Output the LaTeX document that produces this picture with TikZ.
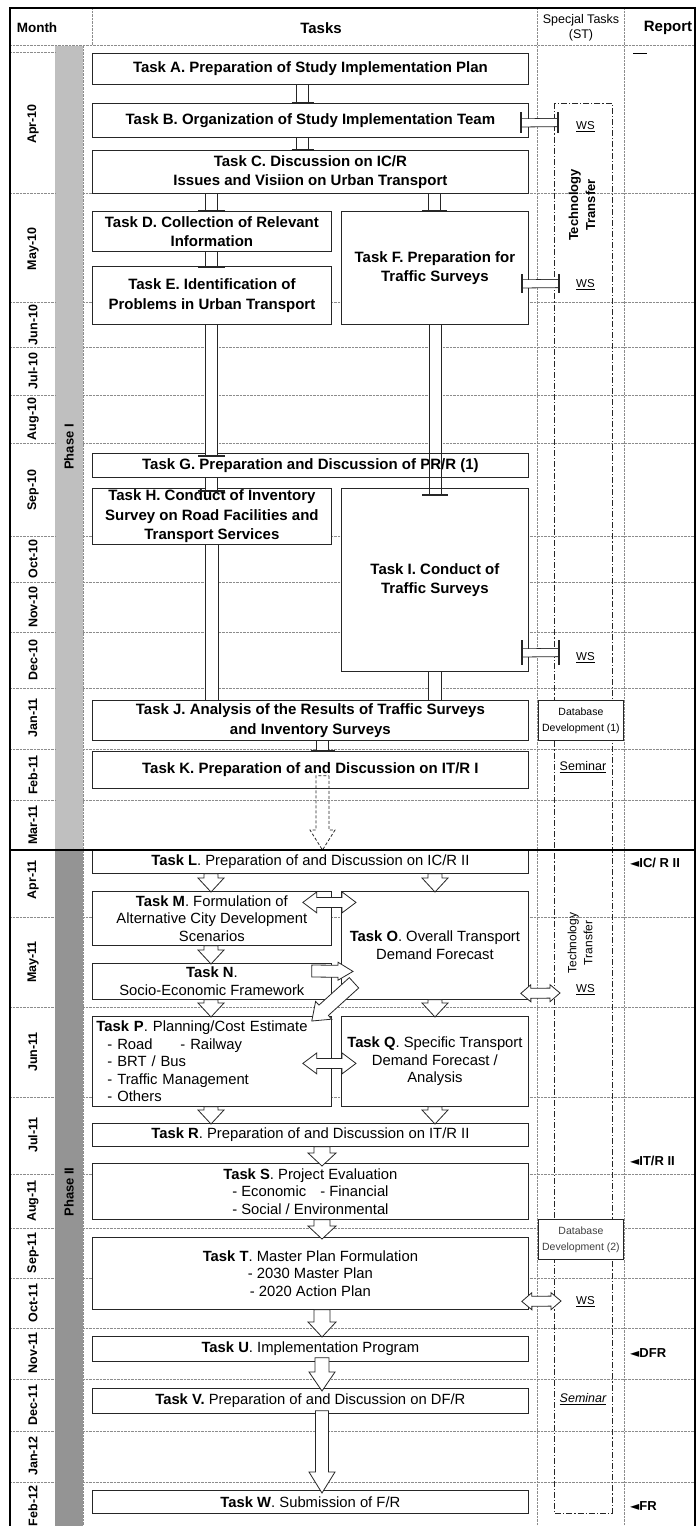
\documentclass[tikz,border=0pt]{standalone}
\usepackage{fontspec}
\setmainfont{Liberation Sans}
\newfontfamily\dejavu{DejaVu Sans}
\usetikzlibrary{calc}
\pgfdeclarelayer{bg}
\pgfdeclarelayer{mid}
\pgfsetlayers{bg,mid,main}
\tikzset{
 box/.style={draw=black!85, line width=0.8pt, fill=white, inner xsep=4pt, inner ysep=1pt, align=center},
 p1/.style={font=\fontsize{15}{19.5}\selectfont\bfseries},
 p2/.style={font=\fontsize{14.8}{17.5}\selectfont},
 mline/.style={draw=black!45, line width=0.6pt, dash pattern=on 0.7pt off 0.7pt},
 pipe/.style={draw=black!85, double=white, double distance=11.4pt, line width=0.8pt},
 hpipesty/.style={draw=black!85, double=white, double distance=7.4pt, line width=0.8pt},
 pline/.style={draw=black!85, line width=0.8pt},
 pipebar/.style={draw=black!85, line width=1.5pt},
 barr/.style={draw=black!85, fill=white, line width=0.8pt, line join=miter},
 ttline/.style={draw=black!85, line width=0.8pt, dash pattern=on 6pt off 2pt on 1.2pt off 2pt},
 mon/.style={rotate=90, font=\fontsize{12.5}{12.5}\selectfont\bfseries},
 ws/.style={anchor=west, inner sep=1pt, font=\fontsize{11.5}{11.5}\selectfont},
 rep/.style={anchor=west, inner sep=0pt, font=\fontsize{13}{13}\selectfont\bfseries},
 dbbox/.style={draw=black!85, line width=0.8pt, fill=white, inner sep=1pt, align=center, font=\fontsize{10.5}{16}\selectfont},
}
% box: [style] name x1 y1 x2 y2 text
\newcommand\tbox[7][]{%
  \pgfmathsetmacro\bw{#5-#3}\pgfmathsetmacro\bh{#6-#4}%
  \node[box,#1,anchor=north west,minimum width=\bw pt,minimum height=\bh pt] (#2) at (#3,#4) {#7};}
% block arrow: [style] start end shafthalf headhalf headlen
\newcommand\blockarrow[6][]{%
  \coordinate (bas) at #2; \coordinate (bae) at #3;
  \coordinate (bah) at ($(bae)!#6pt!(bas)$);
  \draw[barr,#1] ($(bas)!#4pt!90:(bae)$) -- ($(bah)!#4pt!90:(bae)$) -- ($(bah)!#5pt!90:(bae)$) -- (bae)
     -- ($(bah)!#5pt!-90:(bae)$) -- ($(bah)!#4pt!-90:(bae)$) -- ($(bas)!#4pt!-90:(bae)$) -- cycle;}
\newcommand\dblockarrow[6][]{%
  \coordinate (bas) at #2; \coordinate (bae) at #3;
  \coordinate (bh1) at ($(bas)!#6pt!(bae)$); \coordinate (bh2) at ($(bae)!#6pt!(bas)$);
  \draw[barr,#1] (bas) -- ($(bh1)!#5pt!90:(bae)$) -- ($(bh1)!#4pt!90:(bae)$) -- ($(bh2)!#4pt!90:(bae)$)
     -- ($(bh2)!#5pt!90:(bae)$) -- (bae) -- ($(bh2)!#5pt!-90:(bae)$) -- ($(bh2)!#4pt!-90:(bae)$)
     -- ($(bh1)!#4pt!-90:(bae)$) -- ($(bh1)!#5pt!-90:(bae)$) -- cycle;}
% vertical pipe with bar at end: start end barhalf
\newcommand\vpipe[3]{%
  \coordinate (vps) at #1; \coordinate (vpe) at #2;
  \draw[pipe] (vps) -- (vpe);
  \draw[pipebar] ($(vpe)+(-#3,0)$) -- ($(vpe)+(#3,0)$);}
% vertical pipe without bar (white tube)
\newcommand\vpipen[2]{%
  \coordinate (vps) at #1; \coordinate (vpe) at #2;
  \draw[pline, fill=white] ($(vps)+(-6.5,0)$) rectangle ($(vpe)+(6.5,0)$);}
% horizontal pipe with bars at both ends
\newcommand\hpipe[3]{%
  \coordinate (hps) at #1; \coordinate (hpe) at #2;
  \draw[hpipesty] (hps) -- (hpe);
  \draw[pipebar] ($(hps)+(0,-#3)$) -- ($(hps)+(0,#3)$);
  \draw[pipebar] ($(hpe)+(0,-#3)$) -- ($(hpe)+(0,#3)$);}

\begin{document}
\begin{tikzpicture}[x=1pt,y=-1pt]
\useasboundingbox (0,0) rectangle (696,1526);
\begin{pgfonlayer}{bg}
\fill[white] (0,0) rectangle (696,1526);
\fill[black!25] (55,46) rectangle (83,850);
\fill[black!42] (55,850) rectangle (83,1526);
\draw[mline] (83,46) -- (83,1526);
\draw[mline] (92,8) -- (92,45);
\draw[mline] (537,8) -- (537,1526);
\draw[mline] (624,8) -- (624,1526);
\draw[mline] (10,45) -- (695,45);
\draw[mline] (10,52) -- (55,52);
\foreach \y in {193,302,347,395,443,536,582,632,688,749,800,917,1007,1097,1174,1228,1278,1328,1379,1431,1482}
  \draw[mline] (10,\y) -- (55,\y) (83,\y) -- (695,\y);
\draw[ttline] (554,103) rectangle (612,1513);
\draw[line width=0.8pt] (633,53) -- (647,53);
\end{pgfonlayer}

% header
\node[font=\fontsize{13.5}{13.5}\selectfont\bfseries] (hm) at (37,28) {Month};
\node[font=\fontsize{15}{15}\selectfont\bfseries] (ht) at (321,28) {Tasks};
\node[align=center, font=\fontsize{12.5}{14.5}\selectfont] (hs) at (581,28) {Specjal Tasks\\(ST)};
\node[font=\fontsize{15}{15}\selectfont\bfseries] (hr) at (668,28) {Report};

% months
\foreach \m/\c in {Apr-10/124,May-10/249,Jun-10/325,Jul-10/371,Aug-10/419,Sep-10/490,Oct-10/559,Nov-10/607,Dec-10/660,Jan-11/718,Feb-11/775,Mar-11/825,Apr-11/880,May-11/962,Jun-11/1052,Jul-11/1135,Aug-11/1201,Sep-11/1253,Oct-11/1303,Nov-11/1353,Dec-11/1405,Jan-12/1456,Feb-12/1506}
  \node[mon] at (33,\c) {\m};
\node[mon, font=\fontsize{13}{13}\selectfont\bfseries] (ph1) at (69,447) {Phase I};
\node[mon, font=\fontsize{13}{13}\selectfont\bfseries] (ph2) at (69,1192) {Phase II};

% Phase I tasks
\tbox[p1]{tA}{92}{53}{528}{84}{Task A. Preparation of Study Implementation Plan}
\tbox[p1]{tB}{92}{103}{528}{137}{Task B. Organization of Study Implementation Team}
\tbox[p1]{tC}{92}{150}{528}{193}{Task C. Discussion on IC/R\\Issues and Visiion on Urban Transport}
\tbox[p1]{tD}{92}{211}{331}{251}{Task D. Collection of Relevant\\Information}
\tbox[p1]{tE}{92}{266}{331}{324}{Task E. Identification of\\Problems in Urban Transport}
\tbox[p1]{tF}{341}{211}{528}{324}{Task F. Preparation for\\Traffic Surveys}
\tbox[p1]{tG}{92}{453}{528}{477}{Task G. Preparation and Discussion of PR/R (1)}
\tbox[p1]{tH}{92}{488}{331}{544}{Task H. Conduct of Inventory\\Survey on Road Facilities and\\Transport Services}
\tbox[p1]{tI}{341}{488}{528}{671}{Task I. Conduct of\\Traffic Surveys}
\tbox[p1]{tJ}{92}{700}{528}{740}{Task J. Analysis of the Results of Traffic Surveys\\and Inventory Surveys}
\tbox[p1]{tK}{92}{751}{528}{788}{Task K. Preparation of and Discussion on IT/R I}

% Phase II tasks
\tbox[p2]{tL}{92}{850}{528}{873}{\textbf{Task L}. Preparation of and Discussion on IC/R II}
\tbox[p2]{tM}{92}{891}{331}{945}{\textbf{Task M}. Formulation of\\Alternative City Development\\Scenarios}
\tbox[p2]{tN}{92}{963}{331}{999}{\textbf{Task N}.\\Socio-Economic Framework}
\tbox[p2]{tO}{341}{891}{528}{999}{\textbf{Task O}. Overall Transport\\Demand Forecast}
\tbox[p2,align=left,text width=231pt]{tP}{92}{1016}{331}{1106}{\textbf{Task P}. Planning/Cost Estimate\\\hspace*{11pt}\makebox[73pt][l]{- Road}- Railway\\\hspace*{11pt}- BRT / Bus\\\hspace*{11pt}- Traffic Management\\\hspace*{11pt}- Others}
\tbox[p2]{tQ}{341}{1016}{528}{1106}{\textbf{Task Q}. Specific Transport\\Demand Forecast /\\Analysis}
\tbox[p2]{tR}{92}{1123}{528}{1146}{\textbf{Task R}. Preparation of and Discussion on IT/R II}
\tbox[p2]{tS}{92}{1163}{528}{1219}{\textbf{Task S}. Project Evaluation\\- Economic\hspace{14pt}- Financial\\- Social / Environmental}
\tbox[p2]{tT}{92}{1237}{528}{1309}{\textbf{Task T}. Master Plan Formulation\\- 2030 Master Plan\\- 2020 Action Plan}
\tbox[p2]{tU}{92}{1336}{528}{1361}{\textbf{Task U}. Implementation Program}
\tbox[p2]{tV}{92}{1388}{528}{1413}{\textbf{Task V.} Preparation of and Discussion on DF/R}
\tbox[p2]{tW}{92}{1490}{528}{1513}{\textbf{Task W}. Submission of F/R}

% special tasks column
\node[dbbox, anchor=north west, minimum width=85pt, minimum height=40pt] (db1) at (538,700) {Database\\Development (1)};
\node[dbbox, anchor=north west, minimum width=85pt, minimum height=40pt, text=black!75] (db2) at (538,1219) {Database\\Development (2)};
\node[rotate=90, align=center, font=\fontsize{13}{17}\selectfont\bfseries] (tt1) at (582,205) {Technology\\Transfer};
\node[rotate=90, align=center, font=\fontsize{12}{16}\selectfont] (tt2) at (580,943) {Technology\\Transfer};
\node[ws] (ws1) at (575,127) {\underline{WS}};
\node[ws] (ws2) at (575,285) {\underline{WS}};
\node[ws] (ws3) at (575,658) {\underline{WS}};
\node[ws] (ws4) at (575,990) {\underline{WS}};
\node[ws] (ws5) at (575,1302) {\underline{WS}};
\node[font=\fontsize{12.5}{12.5}\selectfont, inner sep=1pt] (sem1) at (583,767) {\underline{Seminar}};
\node[font=\fontsize{12.5}{12.5}\selectfont\itshape, inner sep=1pt] (sem2) at (583,1399) {\underline{Seminar}};

% report column
\node[rep] (r1) at (630,863) {{\dejavu\fontsize{12}{12}\selectfont ◄}IC/ R II};
\node[rep] (r2) at (630,1161) {{\dejavu\fontsize{12}{12}\selectfont ◄}IT/R II};
\node[rep] (r3) at (630,1353) {{\dejavu\fontsize{12}{12}\selectfont ◄}DFR};
\node[rep] (r4) at (630,1506) {{\dejavu\fontsize{12}{12}\selectfont ◄}FR};

% F -> I pipe (under boxes, lines over)
\begin{pgfonlayer}{mid}
\draw[pipe] ($(tF.south west)+(94,0)$) -- ($(tI.north west)+(94,7)$);
\end{pgfonlayer}
\draw[pline] ($(tF.south west)+(88,0)$) -- ($(tI.north west)+(88,7)$);
\draw[pline] ($(tF.south west)+(100,0)$) -- ($(tI.north west)+(100,7)$);
\draw[pipebar] ($(tI.north west)+(81,7)$) -- ($(tI.north west)+(107,7)$);

% Phase I pipes
\vpipe{($(tA.south west)+(210.5,0)$)}{($(tB.north west)+(210.5,0)$)}{11}
\vpipe{($(tB.south west)+(210.5,0)$)}{($(tC.north west)+(210.5,0)$)}{11}
\vpipe{($(tC.south west)+(119.5,0)$)}{($(tD.north west)+(119.5,0)$)}{13.5}
\vpipe{($(tC.south west)+(342.5,0)$)}{($(tF.north west)+(93.5,0)$)}{12.5}
\vpipe{($(tD.south west)+(119.5,0)$)}{($(tE.north west)+(119.5,1)$)}{13.5}
\vpipe{($(tE.south west)+(119.5,0)$)}{($(tG.north west)+(119.5,3)$)}{13.5}
\vpipe{($(tG.south west)+(119.5,0)$)}{($(tH.north west)+(119.5,3)$)}{13.5}
\vpipen{($(tH.south west)+(120,0)$)}{($(tJ.north west)+(120,0)$)}
\vpipen{($(tI.south west)+(94,0)$)}{($(tJ.north west)+(343,0)$)}
\vpipe{($(tJ.south west)+(230.5,0)$)}{($(tK.north west)+(230.5,0)$)}{12}
\hpipe{($(tB.east)+(-8,2.5)$)}{($(ws1.west)+(-17,-4.5)$)}{10.5}
\hpipe{($(tF.east)+(-7,16)$)}{($(ws2.west)+(-16,-1.5)$)}{9.5}
\hpipe{($(tI.east)+(-7,73)$)}{($(ws3.west)+(-16,-5.5)$)}{12.5}

% K -> L dashed arrow
\blockarrow[fill=none, dash pattern=on 3pt off 2pt]{($(tK.south west)+(230.5,-13)$)}{($(tL.north west)+(230.5,0)$)}{6.5}{12.5}{20}

% phase separator and frame
\draw[line width=2pt] (10,850) -- (695,850);
\draw[line width=2pt] (10,1526) -- (10,8) -- (695,8) -- (695,1526);

% Phase II arrows
\blockarrow{($(tL.south west)+(119,0)$)}{($(tM.north west)+(119,1)$)}{7}{13}{14}
\blockarrow{($(tL.south west)+(343,0)$)}{($(tO.north west)+(94,1)$)}{7}{13}{14}
\blockarrow{($(tM.south west)+(119,0)$)}{($(tN.north west)+(119,1)$)}{7}{13}{14}
\blockarrow{($(tN.south west)+(119,0)$)}{($(tP.north west)+(119,1)$)}{7}{13}{14}
\blockarrow{($(tO.south west)+(94,0)$)}{($(tQ.north west)+(94,1)$)}{7}{13}{14}
\blockarrow{($(tP.south west)+(119,0)$)}{($(tR.north west)+(119,1)$)}{7}{13}{14}
\blockarrow{($(tQ.south west)+(94,0)$)}{($(tR.north west)+(343,1)$)}{7}{13}{14}
\blockarrow{($(tR.south west)+(230,0)$)}{($(tS.north west)+(230,3)$)}{8}{14}{13}
\blockarrow{($(tS.south west)+(230,0)$)}{($(tT.north west)+(230,2)$)}{8}{14}{13}
\blockarrow{($(tT.south west)+(230,0)$)}{($(tU.north west)+(230,1)$)}{8}{14}{15}
\blockarrow{($(tU.south west)+(230,-4)$)}{($(tV.north west)+(230,3)$)}{7}{13}{19}
\blockarrow{($(tV.south west)+(230,-3)$)}{($(tW.north west)+(230,3)$)}{6.5}{13}{21}
\dblockarrow{($(tM.east)+(-29,-16)$)}{($(tO.west)+(15,-43)$)}{5}{10.5}{14}
\blockarrow{($(tN.north east)+(-20,8)$)}{($(tO.west)+(12,26)$)}{6}{9}{15}
\blockarrow{($(tO.south west)+(13,-17)$)}{($(tP.north east)+(-20,5)$)}{7}{12}{16}
\dblockarrow{($(tP.east)+(-29,2)$)}{($(tQ.west)+(15,2)$)}{5}{10.5}{14}
\dblockarrow{($(tO.east)+(-8,48)$)}{($(ws4.west)+(-15,3)$)}{5}{8.5}{10}
\dblockarrow{($(tT.east)+(-7,28)$)}{($(ws5.west)+(-14,-1)$)}{5}{8.5}{10}
\end{tikzpicture}
\end{document}
